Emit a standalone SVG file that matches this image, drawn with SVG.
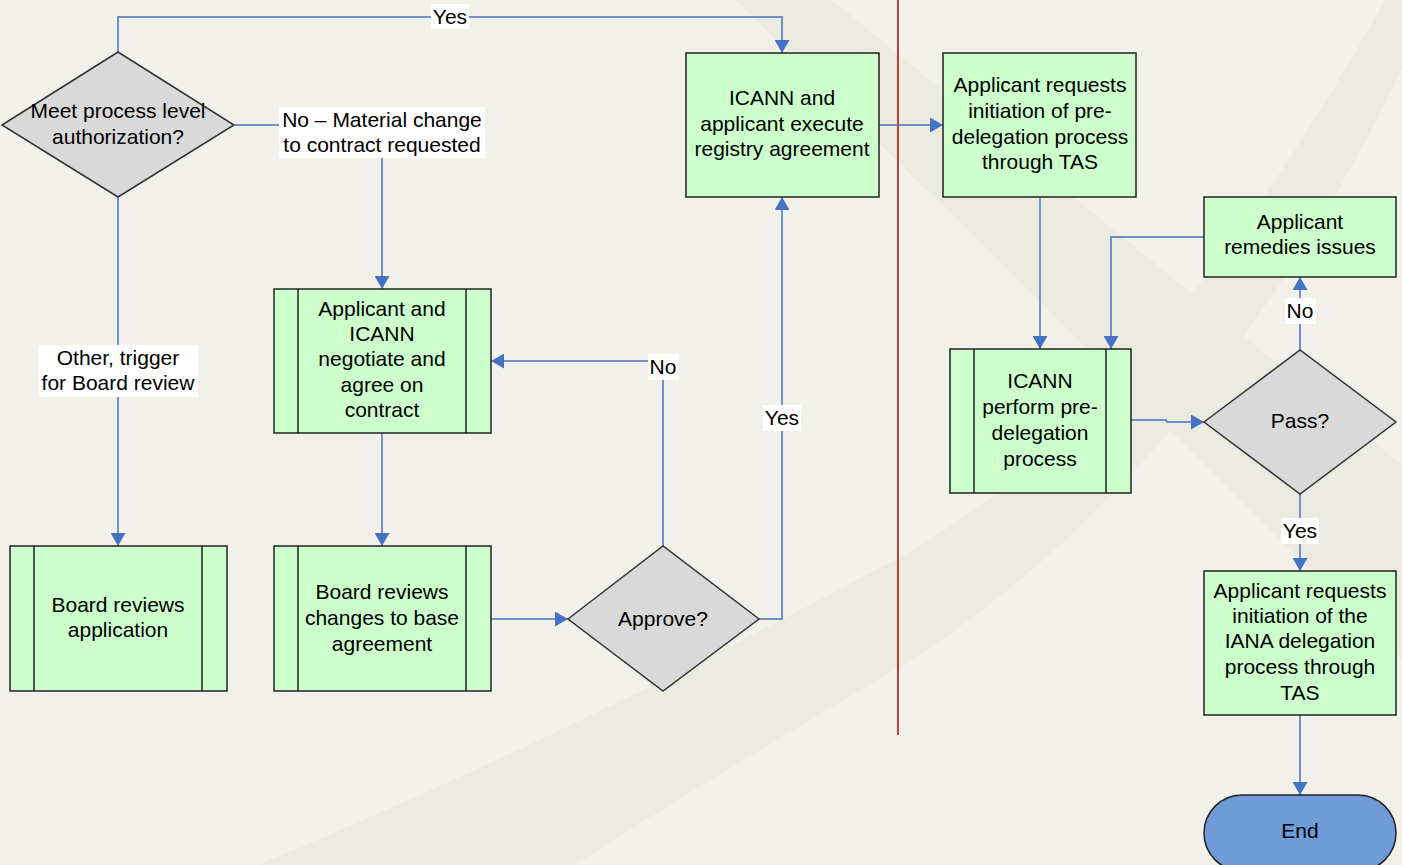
<svg xmlns="http://www.w3.org/2000/svg" width="1402" height="865" viewBox="0 0 1402 865">
<style>
.bg{fill:#F2F2EA}
.sw{fill:#EBEBDF}
.box{fill:#CCFFCC;stroke:#222;stroke-width:1.5}
.dia{fill:#D9D9D9;stroke:#333;stroke-width:1.5}
.bar{stroke:#222;stroke-width:1.5;fill:none}
.con{fill:none;stroke:#4472C4;stroke-width:1.5;marker-end:url(#ah)}
.lbg{fill:#FFFFFF}
text{font-family:"Liberation Sans",Arial,sans-serif;font-size:21px;fill:#000;text-anchor:middle}
</style>
<defs>
<marker id="ah" viewBox="0 0 13 15" refX="13" refY="7.5" markerWidth="13" markerHeight="15" markerUnits="userSpaceOnUse" orient="auto">
<path d="M0,0 L13,7.5 L0,15 z" fill="#4472C4"/>
</marker>
</defs>
<rect class="bg" x="0" y="0" width="1402" height="865"/>
<g id="background">
<path class="sw" d="M735,0 L832,0 L1402,465 L1402,660 z"/>
<path class="sw" d="M1385,0 L1402,0 L1402,70 Q1200,480 900,667 Q740,760 574,865 L258,865 Q560,740 900,557 Q1150,420 1385,0 z"/>
</g>
<line x1="898" y1="0" x2="898" y2="735" stroke="#C00000" stroke-width="1.5"/>
<g id="connectors">
<path class="con" d="M118,52 V17 H782 V53"/>
<path class="con" d="M234,125 H382 V289"/>
<path class="con" d="M118,197 V546"/>
<path class="con" d="M382,433 V546"/>
<path class="con" d="M491,619 H568"/>
<path class="con" d="M663,546 V361 H491"/>
<path class="con" d="M759,619 H782 V197"/>
<path class="con" d="M879,125 H943"/>
<path class="con" d="M1040,197 V349"/>
<path class="con" d="M1204,237 H1111 V349"/>
<path class="con" d="M1131,420 H1166 L1167,422 H1204"/>
<path class="con" d="M1300,350 V277"/>
<path class="con" d="M1300,494 V571"/>
<path class="con" d="M1300,715 V795"/>
<g id="labels">
<rect class="lbg" x="431" y="4" width="38" height="25"/>
<text x="450" y="24">Yes</text>
<rect class="lbg" x="279" y="107" width="206" height="51"/>
<text x="382" y="127">No – Material change</text>
<text x="382" y="152">to contract requested</text>
<rect class="lbg" x="38" y="345" width="160" height="52"/>
<text x="118" y="365">Other, trigger</text>
<text x="118" y="390">for Board review</text>
<rect class="lbg" x="648" y="354" width="31" height="26"/>
<text x="663" y="374">No</text>
<rect class="lbg" x="763" y="405" width="38" height="26"/>
<text x="782" y="425">Yes</text>
<rect class="lbg" x="1285" y="298" width="31" height="26"/>
<text x="1300" y="318">No</text>
<rect class="lbg" x="1281" y="518" width="38" height="26"/>
<text x="1300" y="538">Yes</text>
</g>
</g>
<g id="n-meet">
<polygon class="dia" points="2,125 118,52 234,125 118,197"/>
<text x="118" y="118">Meet process level</text>
<text x="118" y="144">authorization?</text>
</g>
<g id="n-board-app">
<rect class="box" x="10" y="546" width="217" height="145"/>
<path class="bar" d="M34,546 V691 M202,546 V691"/>
<text x="118" y="612">Board reviews</text>
<text x="118" y="637">application</text>
</g>
<g id="n-negotiate">
<rect class="box" x="274" y="289" width="217" height="144"/>
<path class="bar" d="M298,289 V433 M466,289 V433"/>
<text x="382" y="316">Applicant and</text>
<text x="382" y="341">ICANN</text>
<text x="382" y="366">negotiate and</text>
<text x="382" y="392">agree on</text>
<text x="382" y="417">contract</text>
</g>
<g id="n-board-changes">
<rect class="box" x="274" y="546" width="217" height="145"/>
<path class="bar" d="M298,546 V691 M466,546 V691"/>
<text x="382" y="599">Board reviews</text>
<text x="382" y="625">changes to base</text>
<text x="382" y="651">agreement</text>
</g>
<g id="n-approve">
<polygon class="dia" points="568,619 663,546 759,619 663,691"/>
<text x="663" y="626">Approve?</text>
</g>
<g id="n-execute">
<rect class="box" x="686" y="53" width="193" height="144"/>
<text x="782" y="105">ICANN and</text>
<text x="782" y="131">applicant execute</text>
<text x="782" y="156">registry agreement</text>
</g>
<g id="n-request-pre">
<rect class="box" x="943" y="53" width="193" height="144"/>
<text x="1040" y="92">Applicant requests</text>
<text x="1040" y="118">initiation of pre-</text>
<text x="1040" y="144">delegation process</text>
<text x="1040" y="169">through TAS</text>
</g>
<g id="n-perform">
<rect class="box" x="950" y="349" width="181" height="144"/>
<path class="bar" d="M974,349 V493 M1106,349 V493"/>
<text x="1040" y="388">ICANN</text>
<text x="1040" y="414">perform pre-</text>
<text x="1040" y="440">delegation</text>
<text x="1040" y="466">process</text>
</g>
<g id="n-remedies">
<rect class="box" x="1204" y="197" width="192" height="80"/>
<text x="1300" y="229">Applicant</text>
<text x="1300" y="254">remedies issues</text>
</g>
<g id="n-pass">
<polygon class="dia" points="1204,422 1300,350 1396,422 1300,494"/>
<text x="1300" y="428">Pass?</text>
</g>
<g id="n-iana">
<rect class="box" x="1204" y="571" width="192" height="144"/>
<text x="1300" y="598">Applicant requests</text>
<text x="1300" y="623">initiation of the</text>
<text x="1300" y="648">IANA delegation</text>
<text x="1300" y="674">process through</text>
<text x="1300" y="700">TAS</text>
</g>
<g id="n-end">
<rect x="1204" y="795" width="192" height="76" rx="38" ry="38" fill="#6F9BD8" stroke="#222" stroke-width="1.5"/>
<text x="1300" y="838">End</text>
</g>
</svg>
